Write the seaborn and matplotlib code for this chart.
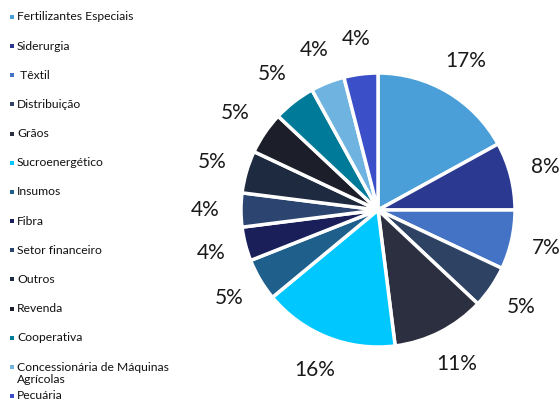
import numpy as np
import seaborn as sns
import matplotlib
matplotlib.use('Agg')
import matplotlib.pyplot as plt

# segments, share (%) and colours, in clockwise order starting at 12 o'clock
segments = ['Fertilizantes Especiais', 'Siderurgia', ' Têxtil', 'Distribuição', 'Grãos',
            'Sucroenergético', 'Insumos', 'Fibra', 'Setor financeiro', 'Outros',
            'Revenda', 'Cooperativa', 'Concessionária de Máquinas\nAgrícolas', 'Pecuária']
shares = [17, 8, 7, 5, 11, 16, 5, 4, 4, 5, 5, 5, 4, 4]
colors = ['#4A9FD8', '#2B3990', '#4472C4', '#2E4363', '#2C2F40',
          '#00C8FF', '#1F5F8B', '#1A1F5A', '#2B4470', '#1E2A40',
          '#1C1F2A', '#007A99', '#6FB3E0', '#3A4FC8']

sns.set_theme(style='white')
plt.rcParams['font.family'] = ['Lato', 'DejaVu Sans']

W, H = 560, 403
fig = plt.figure(figsize=(W / 100, H / 100), dpi=100)

# pie axes: centre (378, 210) px, radius 137 px
cx, cy, r = 378, 210, 137
ax = fig.add_axes([(cx - r) / W, (H - cy - r) / H, 2 * r / W, 2 * r / H])
wedges, texts, autotexts = ax.pie(
    shares, colors=sns.color_palette(colors), startangle=90, counterclock=False,
    autopct='%.0f%%', pctdistance=1.26,
    wedgeprops=dict(edgecolor='white', linewidth=2.5),
    textprops=dict(fontsize=15, color='#1a1a1a'))
for t in autotexts:
    t.set_ha('center')
    t.set_va('center')
ax.set_xlim(-1, 1)
ax.set_ylim(-1, 1)
ax.set_aspect('equal')
ax.axis('off')

# legend drawn in pixel space down the left side
lax = fig.add_axes([0, 0, 1, 1])
lax.set_xlim(0, W)
lax.set_ylim(H, 0)
lax.axis('off')
y0, step = 17, 29.15
for i, (name, col) in enumerate(zip(segments, colors)):
    y = y0 + i * step
    lax.scatter([12], [y], marker='s', s=5, color=col, linewidths=0)
    nlines = name.count('\n')
    lax.text(17, y + 7 * nlines, name, fontsize=8.7, va='center', ha='left',
             color='#111111', linespacing=1.15)

fig.savefig('out.png', dpi=100)
